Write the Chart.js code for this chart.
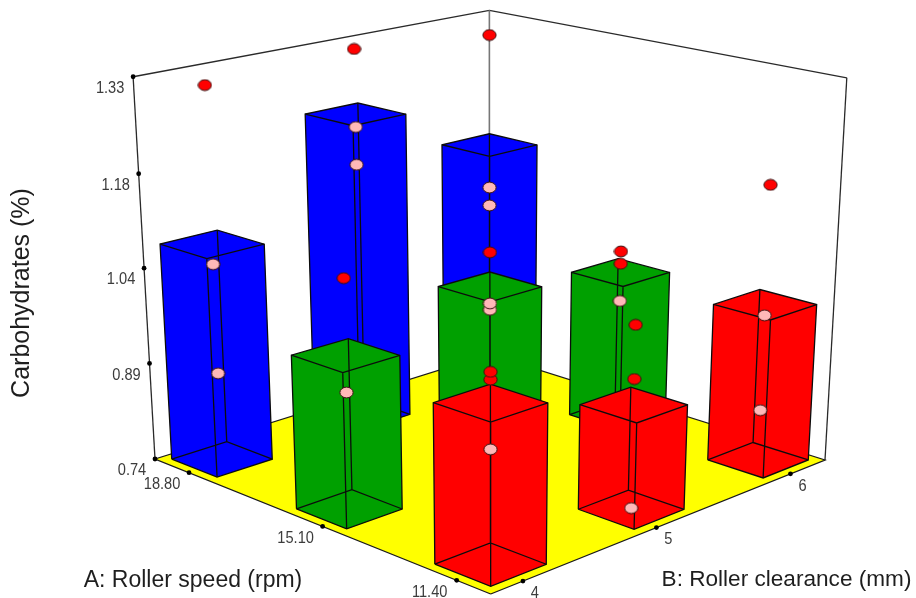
<!DOCTYPE html>
<html>
<head>
<meta charset="utf-8">
<style>html,body{margin:0;padding:0;background:#fff}canvas{display:block}</style>
<script src="https://cdn.jsdelivr.net/npm/chart.js@4"></script>
</head>
<body>
<canvas id="c" width="916" height="598"></canvas>
<script>
// ---- data ----
const rollerSpeed = [11.40, 15.10, 18.80];
const rollerClearance = [4, 5, 6];
const speedLabels = ["11.40", "15.10", "18.80"];
const clearanceLabels = ["4", "5", "6"];
const carbTicks = [0.74, 0.89, 1.04, 1.18, 1.33];
const carbLabels = ["0.74", "0.89", "1.04", "1.18", "1.33"];
// bar heights, one value per clearance level
const barsAt1140 = [0.977, 0.902, 0.989];
const barsAt1510 = [0.976, 1.016, 0.978];
const barsAt1880 = [1.081, 1.229, 1.132];
// observed runs, one list per clearance level
const runsAt1140 = [[0.910, 1.010, 1.021], [0.742, 0.941, 1.022], [0.821, 0.972, 1.172]];
const runsAt1510 = [[0.920, 1.090], [0.980, 0.990, 1.069], [0.931, 0.992, 1.012]];
const runsAt1880 = [[0.879, 1.050, 1.318], [1.150, 1.209, 1.329], [1.031, 1.061, 1.310]];
const barColours = ["#ff0000", "#00a000", "#0000ff"];
const barRows = [barsAt1140, barsAt1510, barsAt1880];
const runRows = [runsAt1140, runsAt1510, runsAt1880];

// ---- perspective view of the 3D box ----
const VIEW = {fx:490.7, fy:594, rx:825, ry:460, lx:155, ly:459, vx:490.7, vy:6320, e:1.14, g:1.14, k:-0.0698};
function project(s, t, z) {
  const v = VIEW;
  const w = 1 + s*(v.e-1) + t*(v.g-1) + z*v.k;
  return {
    x: (v.fx + s*(v.e*v.rx-v.fx) + t*(v.g*v.lx-v.fx) + z*v.k*v.vx) / w,
    y: (v.fy + s*(v.e*v.ry-v.fy) + t*(v.g*v.ly-v.fy) + z*v.k*v.vy) / w
  };
}
const zOf = val => (val - carbTicks[0]) / (carbTicks[4] - carbTicks[0]);
const sOf = b => 0.1 + 0.8*(b - rollerClearance[0])/(rollerClearance[2]-rollerClearance[0]);
const tOf = a => 0.1 + 0.8*(a - rollerSpeed[0])/(rollerSpeed[2]-rollerSpeed[0]);
const zTickFrac = [0, 0.262, 0.515, 0.758, 1];
const sTickFrac = [0.0856, 0.463, 0.884];
const tTickFrac = [0.090, 0.468, 0.886];
const HALF = 0.075;
const GAP = {x:NaN, y:NaN};

// ---- datasets ----
const datasets = [];
function poly(pts, fillColour, line, width) {
  datasets.push({type:'scatter', showLine:true, spanGaps:false, data:pts, polygonFill:fillColour,
    borderColor:line, borderWidth:width, tension:0, pointRadius:0, pointHoverRadius:0, fill:false, clip:false});
}
// frame behind the bars
poly([project(0,1,1), project(1,1,1), project(1,0,1)], null, "#2a2a2a", 1.3);
poly([project(0,1,0), project(0,1,1)], null, "#2a2a2a", 1.3);
poly([project(1,0,0), project(1,0,1)], null, "#2a2a2a", 1.3);
poly([project(1,1,0), project(1,1,1)], null, "#777777", 1.6);
// floor
poly([project(0,0,0), project(1,0,0), project(1,1,0), project(0,1,0), project(0,0,0)], "#ffff00", "#1a1a1a", 1.3);

const order = [];
rollerSpeed.forEach((a,i) => rollerClearance.forEach((b,j) => order.push({i,j,a,b,d:sOf(b)+tOf(a)})));
order.sort((p,q) => q.d - p.d);
order.forEach(({i,j,a,b}) => {
  const s = sOf(b), t = tOf(a), top = zOf(barRows[i][j]);
  const c = (ds,dt,z) => project(s+ds*HALF, t+dt*HALF, z);
  poly([c(-1,1,0), c(-1,-1,0), c(1,-1,0), c(1,-1,top), c(1,1,top), c(-1,1,top), c(-1,1,0)], barColours[i], "#0c0c0c", 1.3);
  poly([c(-1,1,top), c(-1,-1,top), c(1,-1,top), GAP,
        c(-1,-1,top), c(-1,-1,0), GAP,
        c(-1,1,0), c(1,1,0), c(1,-1,0), GAP,
        c(1,1,0), c(1,1,top)], null, "#0c0c0c", 1.3);
});

function oval(fill) {
  const cv = document.createElement('canvas');
  cv.width = 15; cv.height = 13;
  const x = cv.getContext('2d');
  x.beginPath(); x.ellipse(7.5, 6.5, 6.6, 5.4, 0, 0, Math.PI*2);
  x.fillStyle = fill; x.fill();
  x.lineWidth = 1; x.strokeStyle = "#3a1010"; x.stroke();
  return cv;
}
const redOval = oval("#ff0000"), pinkOval = oval("#ffb8b8");
order.forEach(({i,j,a,b}) => {
  runRows[i][j].forEach(v => {
    const p = project(sOf(b), tOf(a), zOf(v));
    datasets.push({type:'scatter', data:[p], showLine:false, clip:false,
      pointStyle: v >= barRows[i][j] ? redOval : pinkOval});
  });
});
// axis tick dots
const tickDots = [
  ...zTickFrac.map(z => project(0,1,z)),
  ...sTickFrac.map(s => project(s,0,0)),
  ...tTickFrac.map(t => project(0,t,0))
];
datasets.push({type:'scatter', data:tickDots, showLine:false, clip:false, pointRadius:2.4,
  pointBackgroundColor:"#000", pointBorderWidth:0});
datasets.forEach((d,n) => { d.order = datasets.length - n; });

// ---- plugins: polygon faces and text ----
const polygonFill = {
  id:'polygonFill',
  beforeDatasetDraw(chart, args) {
    const ds = chart.data.datasets[args.index];
    if (!ds.polygonFill) return;
    const ctx = chart.ctx, pts = args.meta.data;
    ctx.save(); ctx.beginPath();
    pts.forEach((p,n) => n ? ctx.lineTo(p.x,p.y) : ctx.moveTo(p.x,p.y));
    ctx.closePath(); ctx.fillStyle = ds.polygonFill; ctx.fill(); ctx.restore();
  }
};
const axisText = {
  id:'axisText',
  afterDraw(chart) {
    const ctx = chart.ctx, X = chart.scales.x, Y = chart.scales.y;
    const put = (txt,p,dx,dy) => {
      ctx.save();
      ctx.translate(X.getPixelForValue(p.x)+dx, Y.getPixelForValue(p.y)+dy);
      ctx.scale(0.86, 1);
      ctx.fillText(txt, 0, 0);
      ctx.restore();
    };
    ctx.save();
    ctx.textAlign = 'center'; ctx.textBaseline = 'middle';
    ctx.fillStyle = "#3c3c3c"; ctx.font = "17px 'Liberation Sans'";
    carbLabels.forEach((l,n) => put(l, project(0,1,zTickFrac[n]), -23, 11.5));
    speedLabels.forEach((l,n) => put(l, project(0,tTickFrac[n],0), -27, 12));
    clearanceLabels.forEach((l,n) => put(l, project(sTickFrac[n],0,0), 12, 12));
    ctx.fillStyle = "#1e1e1e"; ctx.font = "23px 'Liberation Sans'";
    ctx.fillText("A: Roller speed (rpm)", 193, 581);
    ctx.font = "22.6px 'Liberation Sans'";
    ctx.fillText("B: Roller clearance (mm)", 786.5, 580);
    ctx.font = "25px 'Liberation Sans'";
    ctx.translate(22, 293); ctx.rotate(-Math.PI/2);
    ctx.fillText("Carbohydrates (%)", 0, 0);
    ctx.restore();
  }
};

new Chart(document.getElementById('c'), {
  data:{datasets},
  plugins:[polygonFill, axisText],
  options:{
    responsive:false, animation:false, events:[],
    layout:{padding:0, autoPadding:false},
    plugins:{legend:{display:false}, tooltip:{enabled:false}, title:{display:false}},
    scales:{
      x:{type:'linear', min:0, max:916, display:false},
      y:{type:'linear', min:0, max:598, reverse:true, display:false}
    }
  }
});
</script>
</body>
</html>
